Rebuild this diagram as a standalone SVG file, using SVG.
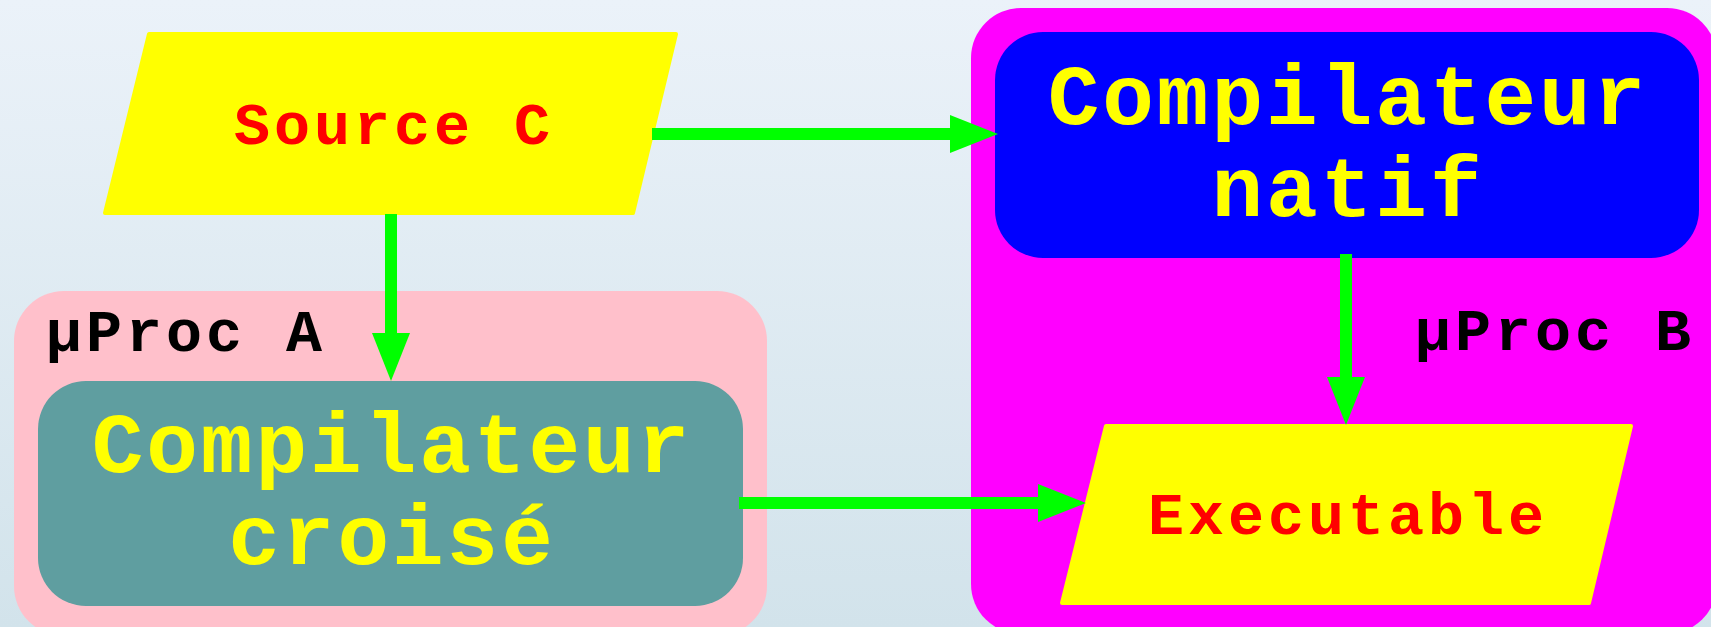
<svg xmlns="http://www.w3.org/2000/svg" width="1711" height="627" viewBox="0 0 1711 627">
<defs>
<linearGradient id="bg" x1="0" y1="0" x2="0" y2="1">
<stop offset="0" stop-color="#ebf2f9"/>
<stop offset="1" stop-color="#d2e3eb"/>
</linearGradient>
<marker id="ah" markerUnits="userSpaceOnUse" markerWidth="48" markerHeight="38" refX="0" refY="19" orient="auto">
<polygon points="0,0 48,19 0,38" fill="#00ff00"/>
</marker>
<style>
text{font-family:"Liberation Mono","Courier New",monospace;font-weight:bold;text-anchor:middle}
.small{font-size:60px;letter-spacing:4px}
.big{font-size:86px;fill:#ffff00;letter-spacing:3px}
.lbl{fill:#000000;text-anchor:start}
.red{fill:#ff0000}
.para{fill:#ffff00;stroke:#ffff00;stroke-width:4;stroke-linejoin:round}
.edge{stroke:#00ff00;stroke-width:12;fill:none}
</style>
</defs>
<rect x="0" y="0" width="1711" height="627" fill="url(#bg)"/>
<g id="cluster_A">
<rect x="14" y="291" width="753" height="345" rx="50" ry="50" fill="#ffc0cb"/>
<text class="small lbl" x="46" y="351">µProc A</text>
</g>
<g id="cluster_B">
<rect x="971" y="8" width="746" height="626" rx="50" ry="50" fill="#ff00ff"/>
<text class="small lbl" x="1415" y="350">µProc B</text>
</g>
<g id="source_c">
<polygon class="para" points="149,34 676,34 633,213 105,213"/>
<text class="small red" x="394" y="144">Source C</text>
</g>
<g id="compilateur_natif">
<rect x="995" y="32" width="704" height="226" rx="48" ry="48" fill="#0000ff"/>
<text class="big" x="1348" y="124">Compilateur</text>
<text class="big" x="1348" y="216">natif</text>
</g>
<g id="compilateur_croise">
<rect x="38" y="381" width="705" height="225" rx="48" ry="48" fill="#5f9ea0"/>
<text class="big" x="392" y="472">Compilateur</text>
<text class="big" x="392" y="564">croisé</text>
</g>
<g id="executable">
<polygon class="para" points="1106,426 1631,426 1589,603 1062,603"/>
<text class="small red" x="1348" y="534">Executable</text>
</g>
<g id="edges">
<line class="edge" x1="652" y1="134" x2="950" y2="134" marker-end="url(#ah)"/>
<line class="edge" x1="391" y1="214" x2="391" y2="333" marker-end="url(#ah)"/>
<line class="edge" x1="1346" y1="254" x2="1346" y2="377" marker-end="url(#ah)"/>
<line class="edge" x1="739" y1="503" x2="1038" y2="503" marker-end="url(#ah)"/>
</g>
</svg>
